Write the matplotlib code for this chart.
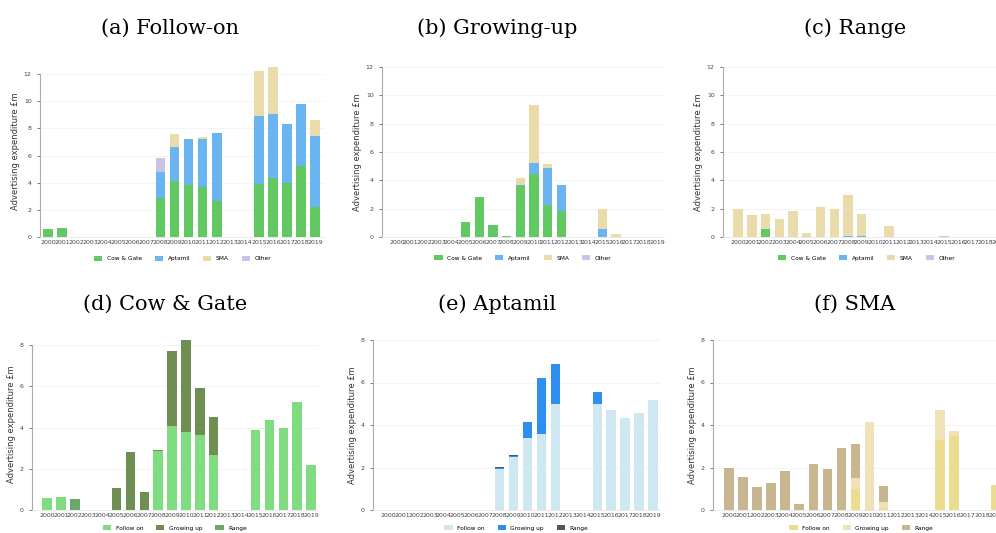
import numpy as np
import matplotlib
matplotlib.use("Agg")
import matplotlib.pyplot as plt

# Advertising expenditure (GBP m) by year, split by brand / product type

years = [str(y) for y in range(2000, 2020)]

# (a) Follow-on, by brand
fo_cowgate = [0.6, 0.65, 0, 0, 0, 0, 0, 0, 2.85, 4.1, 3.8, 3.65, 2.65, 0, 0, 3.9, 4.35, 4.0, 5.25, 2.2]
fo_aptamil = [0, 0, 0, 0, 0, 0, 0, 0, 1.95, 2.5, 3.4, 3.6, 5.0, 0, 0, 5.0, 4.7, 4.35, 4.55, 5.2]
fo_sma = [0, 0, 0, 0, 0, 0, 0, 0, 0, 1.0, 0.05, 0.1, 0, 0, 0, 3.3, 3.5, 0, 0, 1.2]
fo_other = [0, 0, 0, 0, 0, 0, 0, 0, 1.0, 0, 0, 0, 0, 0, 0, 0, 0, 0, 0, 0]

# (b) Growing-up, by brand
gu_cowgate = [0, 0, 0, 0, 0, 1.05, 2.8, 0.85, 0.05, 3.6, 4.45, 2.25, 1.85, 0, 0, 0, 0, 0, 0, 0]
gu_aptamil = [0, 0, 0, 0, 0, 0, 0.02, 0.02, 0.02, 0.05, 0.75, 2.6, 1.85, 0, 0, 0.55, 0, 0, 0, 0]
gu_sma = [0, 0, 0, 0, 0, 0, 0, 0, 0, 0.5, 4.1, 0.3, 0, 0, 0, 1.4, 0.2, 0, 0, 0]
gu_other = [0] * 20

# (c) Range, by brand
rg_cowgate = [0, 0, 0.55, 0, 0, 0, 0, 0, 0, 0, 0, 0, 0, 0, 0, 0, 0, 0, 0, 0]
rg_aptamil = [0, 0, 0, 0, 0, 0, 0, 0, 0.05, 0.05, 0, 0, 0, 0, 0, 0, 0, 0, 0, 0]
rg_sma = [2.0, 1.55, 1.1, 1.25, 1.85, 0.3, 2.15, 1.95, 2.9, 1.6, 0, 0.75, 0, 0, 0, 0, 0, 0, 0, 0]
rg_other = [0, 0, 0, 0, 0, 0, 0, 0, 0, 0, 0, 0, 0, 0, 0, 0.1, 0, 0, 0, 0]

brand_labels = ["Cow & Gate", "Aptamil", "SMA", "Other"]
type_labels = ["Follow on", "Growing up", "Range"]

brand_colors = ["#62c962", "#6ab4f2", "#e9dcaa", "#cbc2e8"]
cg_colors = ["#80dc80", "#6f8f52", "#69a869"]
apt_colors = ["#cfe7f1", "#2e8ff0", "#555555"]
sma_colors = ["#ebdc90", "#efe2b8", "#c8b690"]

W, H = 996, 533

# title, series, labels, colors, yticks max, ylim top, axes rect in px (left, bottom, right, top),
# xlim, title position (centre x, baseline y)
panels = [
    ("(a) Follow-on", [fo_cowgate, fo_aptamil, fo_sma, fo_other], brand_labels, brand_colors,
     12, 12.7, (40, 237, 325, 64.5), (-0.57, 19.7), (170, 34)),
    ("(b) Growing-up", [gu_cowgate, gu_aptamil, gu_sma, gu_other], brand_labels, brand_colors,
     12, 12.0, (382, 237, 664, 67), (-1.1, 19.5), (497, 34)),
    ("(c) Range", [rg_cowgate, rg_aptamil, rg_sma, rg_other], brand_labels, brand_colors,
     12, 12.0, (723, 237, 1010, 67), (-1.1, 19.8), (855, 34)),
    ("(d) Cow & Gate", [fo_cowgate, gu_cowgate, rg_cowgate], type_labels, cg_colors,
     8, 8.35, (32, 510, 318, 338), (-1.08, 19.5), (165, 310)),
    ("(e) Aptamil", [fo_aptamil, gu_aptamil, rg_aptamil], type_labels, apt_colors,
     8, 8.0, (373, 510, 660, 340), (-1.08, 19.5), (497, 310)),
    ("(f) SMA", [fo_sma, gu_sma, rg_sma], type_labels, sma_colors,
     8, 8.0, (713, 510, 1010, 340), (-1.14, 20.0), (855, 310)),
]

fig = plt.figure(figsize=(W / 100, H / 100), dpi=100)

for i, (title, series, labels, colors, ytop, ylim, rect, xl, tpos) in enumerate(panels):
    l, b, r, t = rect
    ax = fig.add_axes([l / W, 1 - b / H, (r - l) / W, (b - t) / H])
    x = np.arange(len(years))
    bottom = np.zeros(len(years))
    for vals, lab, col in zip(series, labels, colors):
        vals = np.array(vals, dtype=float)
        ax.bar(x, vals, 0.68, bottom=bottom, color=col, label=lab, linewidth=0)
        bottom += vals
    ax.set_ylim(0, ylim)
    ax.set_xlim(*xl)
    ax.set_yticks(np.arange(0, ytop + 1, 2))
    ax.set_xticks(x)
    ax.set_xticklabels(years, fontsize=4.5, color="#444444")
    ax.tick_params(axis="y", labelsize=4.5, colors="#444444", length=2, width=0.5, pad=4)
    ax.tick_params(axis="x", length=0, pad=2)
    ax.yaxis.grid(True, color="#f2f2f2", linewidth=0.6)
    ax.set_axisbelow(True)
    for s in ["top", "right"]:
        ax.spines[s].set_visible(False)
    ax.spines["left"].set_color("#aaaaaa")
    ax.spines["left"].set_linewidth(0.8)
    ax.spines["left"].set_bounds(0, ytop)
    ax.spines["bottom"].set_color("#e6e6e6")
    ax.spines["bottom"].set_linewidth(0.6)
    ax.set_ylabel("Advertising expenditure £m", fontsize=6, color="#333333")
    off = 20 if i < 3 else 16
    ax.yaxis.set_label_coords(-off / (r - l), 0.5)
    leg_y = -0.095 if i < 3 else -0.075
    ax.legend(loc="upper center", bbox_to_anchor=(0.5, leg_y), ncol=len(labels),
              frameon=False, fontsize=4.2, handlelength=1.4, handleheight=0.9,
              columnspacing=2.2, handletextpad=0.8, borderaxespad=0)
    fig.text(tpos[0] / W, 1 - tpos[1] / H, title, ha="center", va="baseline",
             fontsize=15, family="DejaVu Serif")

fig.savefig("out.png", dpi=100)
